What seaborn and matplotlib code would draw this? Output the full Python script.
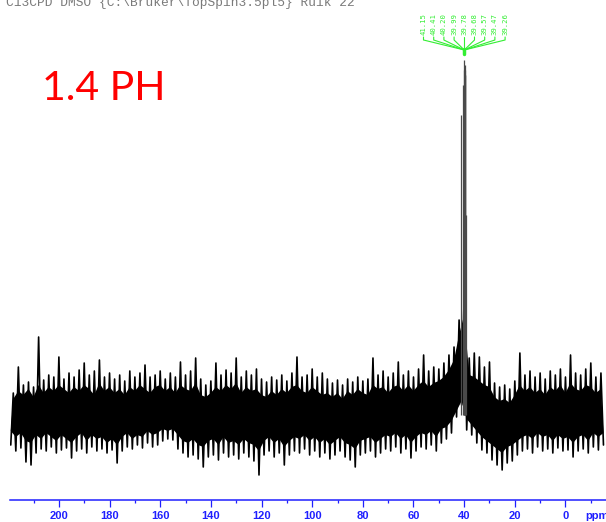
import numpy as np
import pandas as pd
import matplotlib
matplotlib.use("Agg")
import matplotlib.pyplot as plt
from matplotlib.lines import Line2D
import seaborn as sns

# Noise trace: local maxima at even ppm, local minima at odd ppm (arbitrary units)
top_ppm = np.arange(218, -15, -2)
tops = [22, 48, 30, 33, 28, 78, 35, 40, 38, 58,
        36, 42, 38, 45, 52, 40, 44, 55, 38, 42,
        36, 40, 34, 44, 38, 42, 50, 38, 40, 44,
        36, 42, 38, 53, 40, 44, 57, 36, 30, 34,
        52, 40, 45, 42, 57, 38, 44, 40, 46, 36,
        33, 38, 35, 40, 34, 42, 58, 38, 40, 46,
        38, 42, 36, 32, 35, 30, 36, 33, 38, 34,
        36, 57, 40, 44, 38, 42, 53, 40, 44, 38,
        46, 60, 44, 48, 46, 52, 60, 68, 95, 120,
        57, 62, 58, 48, 53, 32, 28, 30, 26, 34,
        62, 40, 44, 38, 42, 36, 44, 40, 46, 38,
        60, 42, 40, 46, 52, 38, 42]

bottom_ppm = np.arange(219, -16, -2)
bottoms = [-30, -36, -33, -47, -50, -38, -34, -36, -32, -38,
           -35, -33, -43, -36, -34, -38, -32, -36, -34, -38,
           -35, -48, -36, -32, -34, -30, -33, -28, -32, -30,
           -26, -24, -25, -34, -38, -42, -40, -44, -52, -42,
           -40, -45, -38, -42, -40, -44, -38, -42, -46, -60,
           -40, -36, -42, -38, -50, -40, -36, -38, -34, -40,
           -36, -42, -38, -44, -40, -36, -42, -45, -52, -40,
           -38, -36, -42, -38, -34, -36, -32, -38, -34, -43,
           -36, -32, -34, -30, -36, -28, -24, -18, -2, 10,
           -15, -20, -28, -35, -38, -45, -50, -55, -48, -46,
           -40, -36, -34, -38, -32, -36, -34, -38, -33, -36,
           -35, -42, -36, -34, -38, -32, -35, -30]

# Solid body of the noise band: its upper edge (at even ppm) and lower edge (at odd ppm)
core_top = [16, 24, 20, 26, 18, 30, 22, 28, 24, 30,
            26, 22, 28, 24, 30, 26, 20, 32, 24, 28,
            22, 26, 20, 28, 24, 30, 26, 22, 28, 30,
            24, 28, 22, 30, 26, 24, 32, 20, 18, 22,
            28, 24, 30, 26, 32, 22, 28, 24, 26, 20,
            18, 24, 20, 26, 22, 28, 30, 24, 22, 28,
            24, 20, 22, 18, 22, 16, 24, 20, 26, 22,
            20, 30, 26, 28, 22, 28, 30, 24, 30, 24,
            30, 34, 28, 32, 34, 38, 45, 55, 80, 100,
            40, 38, 34, 30, 28, 18, 14, 16, 12, 20,
            30, 24, 28, 22, 26, 20, 28, 24, 30, 22,
            32, 26, 24, 30, 28, 22, 26]
core_bottom = [-16, -22, -18, -26, -28, -20, -24, -18, -22, -26,
               -20, -24, -28, -22, -18, -26, -20, -24, -22, -28,
               -24, -30, -22, -18, -24, -20, -22, -16, -20, -18,
               -14, -16, -14, -20, -26, -28, -24, -30, -32, -26,
               -24, -30, -22, -28, -26, -30, -24, -28, -30, -36,
               -26, -22, -28, -24, -32, -26, -22, -24, -20, -26,
               -22, -28, -24, -30, -26, -22, -28, -30, -34, -26,
               -24, -22, -28, -24, -20, -22, -18, -24, -20, -28,
               -22, -18, -20, -16, -22, -14, -12, -6, 4, 14,
               -4, -10, -16, -22, -26, -30, -34, -38, -32, -30,
               -26, -22, -20, -24, -18, -22, -20, -26, -20, -24,
               -22, -28, -22, -20, -26, -18, -22, -18]

# DMSO-d6 solvent multiplet
peak_ppm = [41.15, 40.41, 40.20, 39.99, 39.78, 39.68, 39.57, 39.47, 39.26]
peak_height = [300, 330, 345, 355, 350, 340, 345, 340, 200]
peak_labels = ["41.15", "40.41", "40.20", "39.99", "39.78", "39.68", "39.57", "39.47", "39.26"]

major_ticks = [200, 180, 160, 140, 120, 100, 80, 60, 40, 20, 0]
minor_ticks = [210, 190, 170, 150, 130, 110, 90, 70, 50, 30, 10, -10]

title_text = "C13CPD DMSO {C:\\Bruker\\TopSpin3.5pl5} Ruik 22"
sample_text = "1.4 PH"

BLUE = "#1f1fff"
GREEN = "#33ee33"

sns.set_style("white")
plt.rcParams["font.family"] = ["Liberation Sans", "DejaVu Sans"]

W, H = 606, 522
fig = plt.figure(figsize=(W / 100, H / 100), dpi=100)
ax = fig.add_axes([10 / W, 22 / H, 596 / W, 460 / H])

# solid body as one polygon: upper edge left-to-right, lower edge back
body_x = np.concatenate([top_ppm, bottom_ppm[::-1]])
body_y = np.concatenate([core_top, core_bottom[::-1]])
ax.fill(body_x, body_y, color="black", lw=0)

trace = pd.DataFrame({
    "ppm": np.concatenate([top_ppm, bottom_ppm]),
    "intensity": np.concatenate([tops, bottoms]),
}).sort_values("ppm", ascending=False)
sns.lineplot(data=trace, x="ppm", y="intensity", sort=False, estimator=None,
             color="black", lw=1.2, ax=ax)
ax.vlines(peak_ppm, 0, peak_height, color="#4a4a4a", lw=0.9)

ax.set_xlim(219.3, -16.0)
ax.set_ylim(-85, 375)
ax.set_xlabel("")
ax.set_ylabel("")
ax.set_yticks([])
for side in ("left", "top", "right"):
    ax.spines[side].set_visible(False)
ax.spines["bottom"].set_color(BLUE)
ax.spines["bottom"].set_linewidth(1.1)

ax.set_xticks(major_ticks)
ax.set_xticklabels([str(t) for t in major_ticks])
ax.set_xticks(minor_ticks, minor=True)
ax.tick_params(axis="x", which="major", direction="out", length=5, width=0.9,
               color=BLUE, labelcolor=BLUE, labelsize=8, pad=3)
ax.tick_params(axis="x", which="minor", direction="out", length=2.5, width=0.9,
               color=BLUE)
ax.tick_params(axis="x", which="both", bottom=True)
for lbl in ax.get_xticklabels():
    lbl.set_fontweight("bold")

fig.text(585 / W, 1 - 511 / H, "ppm", color=BLUE, fontsize=8,
         fontweight="bold", ha="left", va="top")

# Header line and sample name
fig.text(6 / W, 1 - 6 / H, title_text, family="Liberation Mono", fontsize=9.3,
         color="#7a7a7a", ha="left", va="baseline")
fig.text(42 / W, 1 - 100 / H, sample_text, family=["Lato", "DejaVu Sans"],
         fontsize=29.5, color="#ff0000", ha="left", va="baseline")

# Peak-picking labels with leader lines fanning into the multiplet
xp, _ = ax.transData.transform((np.mean(peak_ppm), 0))
n = len(peak_labels)
spacing = 10.2
for i, lab in enumerate(peak_labels):
    xi = xp + (i - (n - 1) / 2) * spacing
    fig.text(xi / W, 1 - 35 / H, lab, rotation=90, ha="center", va="bottom",
             family="DejaVu Sans Mono", fontsize=5.2, color=GREEN)
    fig.add_artist(Line2D([xi, xi, xp], [H - 37, H - 40, H - 50],
                          transform=None, color=GREEN, lw=0.8))
fig.add_artist(Line2D([xp, xp], [H - 49, H - 54], transform=None,
                      color=GREEN, lw=2.5))

fig.savefig("out.png", dpi=100)
